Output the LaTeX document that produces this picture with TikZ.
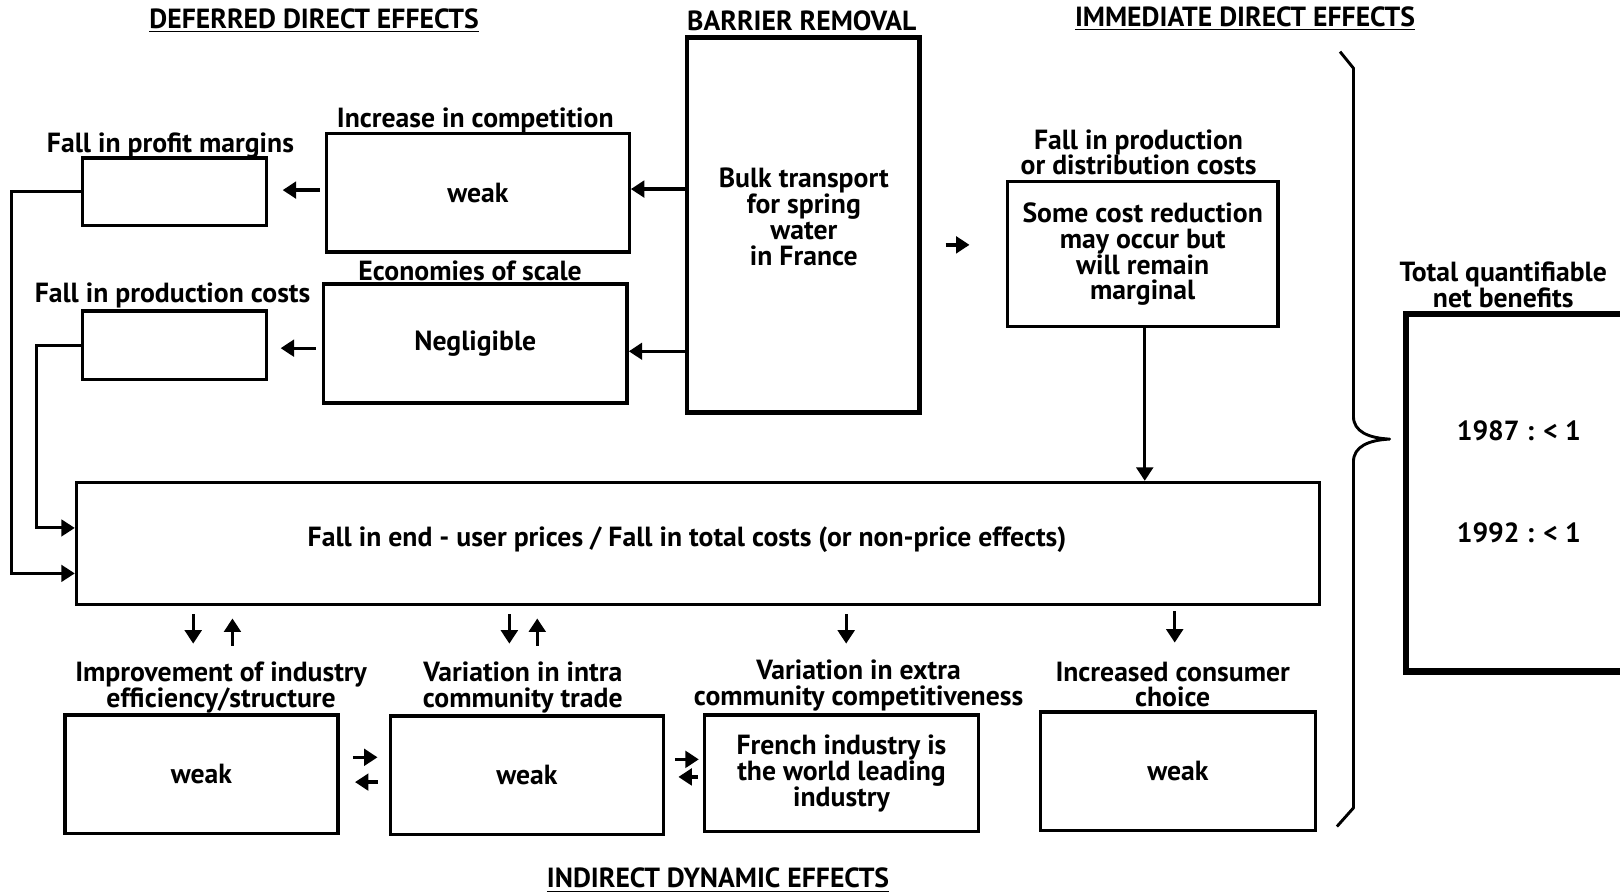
\documentclass[tikz,border=0pt]{standalone}
\usepackage{fontspec}
\setmainfont{PT Sans}
\usetikzlibrary{arrows.meta}
\begin{document}
\begin{tikzpicture}[x=0.5pt,y=-0.5pt,
  every node/.style={font=\fontsize{13.4}{12.5}\selectfont\bfseries, align=center, inner sep=0pt},
  box/.style={draw, line width=1.6pt, rectangle},
  thickbox/.style={draw, line width=2.3pt, rectangle},
  heavybox/.style={draw, line width=3.2pt, rectangle},
  arr/.style={line width=1.6pt, -{Triangle[length=6.5pt,width=8pt]}},
  feed/.style={line width=1.4pt, -{Triangle[length=6.5pt,width=8pt]}}]
\useasboundingbox (0,0) rectangle (1568,865);
\clip (0,0) rectangle (1568,865);

% section headings
\node (hdef) at (304,20) {\underline{DEFERRED DIRECT EFFECTS}};
\node (hbar) at (776,20) {BARRIER REMOVAL};
\node (himm) at (1205,18) {\underline{IMMEDIATE DIRECT EFFECTS}};
\node (hind) at (695,852) {\underline{INDIRECT DYNAMIC EFFECTS}};

% barrier removal
\node[thickbox, minimum width=112.5pt, minimum height=181.5pt] (barrier) at (777.5,217.5) {};
\node (bartext) at (778,210) {Bulk transport\\for spring\\water\\in France};

% deferred direct effects
\node[box, minimum width=146.5pt, minimum height=57.5pt] (compet) at (462.5,186.5) {weak};
\node (lcompet) at (460,117) {Increase in competition};
\node[box, minimum width=147pt, minimum height=57.5pt] (econ) at (460,332.5) {Negligible};
\node (lecon) at (455,262) {Economies of scale};
\node[box, minimum width=89pt, minimum height=32.5pt] (profit) at (169,185.5) {};
\node (lprofit) at (165,141) {Fall in profit margins};
\node[box, minimum width=89pt, minimum height=33pt] (prodcost) at (169,334) {};
\node (lprodcost) at (167,286) {Fall in production costs};

% immediate direct effects
\node[box, minimum width=131pt, minimum height=70pt] (cost) at (1106,246) {Some cost reduction\\may occur but\\will remain\\marginal};
\node (lcost) at (1102,147.5) {Fall in production\\or distribution costs};

% prices
\node[box, minimum width=601.5pt, minimum height=59pt] (main) at (675.5,526) {};
\node (maintext) at (665,522) {Fall in end - user prices / Fall in total costs (or non-price effects)};

% total
\node[heavybox, minimum width=119.5pt, minimum height=173pt] (total) at (1480.5,477) {};
\node (ltotal) at (1455,275.5) {Total quantifiable\\net benefits};
\node (y87) at (1470,417) {1987 : < 1};
\node (y92) at (1470,516) {1992 : < 1};

% indirect dynamic effects
\node[box, minimum width=132pt, minimum height=57.5pt] (b1) at (195,749.5) {weak};
\node (lb1) at (214,665.5) {Improvement of industry\\efficiency/structure};
\node[box, minimum width=132pt, minimum height=57.5pt] (b2) at (510,750.5) {weak};
\node (lb2) at (506,665.5) {Variation in intra\\community trade};
\node[box, minimum width=132.5pt, minimum height=56.5pt] (b3) at (814.5,748.5) {French industry is\\the world leading\\industry};
\node (lb3) at (831,663.5) {Variation in extra\\community competitiveness};
\node[box, minimum width=133pt, minimum height=57.5pt] (b4) at (1140,746.5) {weak};
\node (lb4) at (1135,662.5) {Increased consumer\\choice};

% free ends of the short vertical arrows
\coordinate (d1) at (187,623);
\coordinate (u1) at (225,625);
\coordinate (d2) at (493,623);
\coordinate (u2) at (520,625);
\coordinate (d3) at (819,623);
\coordinate (d4) at (1137,622);

% connectors
\draw[arr] (barrier.west |- 0,183) -- (compet.east |- 0,183);
\draw[arr] (barrier.west |- 0,340) -- (econ.east |- 0,340);
\draw[arr, shorten <=2.5pt, shorten >=7pt] (compet.west |- 0,184) -- (profit.east |- 0,184);
\draw[arr, shorten <=3pt, shorten >=6pt] (econ.west |- 0,337) -- (prodcost.east |- 0,337);
\draw[arr, shorten <=11.5pt, shorten >=17.5pt] (barrier.east |- 0,237) -- (cost.west |- 0,237);
\draw[arr] (cost.south -| 1108,0) -- (main.north -| 1108,0);
\draw[feed] (profit.west) -- ++(-67,0) |- (main.west |- 0,555);
\draw[feed] (prodcost.west) -- ++(-43,0) |- (main.west |- 0,511);

\draw[arr, shorten <=4pt] (main.south -| d1) -- (d1);
\draw[arr, shorten >=6pt] (u1) -- (main.south -| u1);
\draw[arr, shorten <=4pt] (main.south -| d2) -- (d2);
\draw[arr, shorten >=6pt] (u2) -- (main.south -| u2);
\draw[arr, shorten <=4pt] (main.south -| d3) -- (d3);
\draw[arr, shorten <=2.5pt] (main.south -| d4) -- (d4);

\draw[arr, shorten <=6.5pt, shorten >=5.5pt] (b1.east |- 0,733) -- (b2.west |- 0,733);
\draw[arr, shorten <=5.5pt, shorten >=7.5pt] (b2.west |- 0,757) -- (b1.east |- 0,757);
\draw[arr, shorten <=5pt, shorten >=2pt] (b2.east |- 0,735) -- (b3.west |- 0,735);
\draw[arr, shorten <=2.5pt, shorten >=6.5pt] (b3.west |- 0,752) -- (b2.east |- 0,752);

% brace gathering all effects
\draw[line width=1.4pt, line join=round] (1297,50) -- (1310,66) -- (1310,403)
  .. controls (1310,418) and (1325,424) .. (1345,425)
  .. controls (1325,426) and (1310,432) .. (1310,447)
  -- (1310,782) -- (1294,800);
\end{tikzpicture}
\end{document}
